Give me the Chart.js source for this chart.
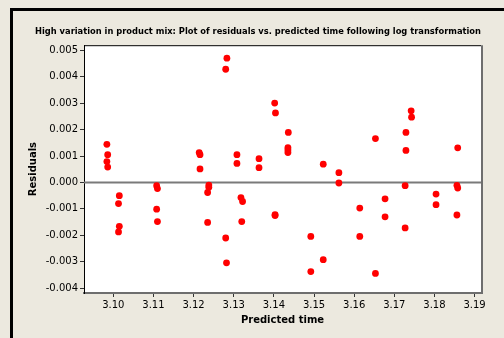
<!DOCTYPE html>
<html>
<head>
<meta charset="utf-8">
<script src="https://cdn.jsdelivr.net/npm/chart.js@4/dist/chart.umd.min.js"></script>
<style>
  html, body { margin: 0; padding: 0; background: #ece9df; overflow: hidden; }
  #wrap { position: relative; width: 504px; height: 338px; }
  #frame {
    position: absolute; left: 10px; top: 8px; width: 600px; height: 400px;
    border-left: 3px solid #000; border-top: 3px solid #000;
  }
  #plot { position: absolute; left: 0; top: 0; }
</style>
</head>
<body>
<div id="wrap">
  <div id="frame"></div>
  <canvas id="plot" width="504" height="338"></canvas>
</div>
<script>
// fitted values (log scale) and their residuals
const predicted = [
  3.0984, 3.0986, 3.0984, 3.0986,
  3.1015, 3.1013, 3.1015, 3.1013,
  3.1108, 3.1110, 3.1108, 3.1110,
  3.1214, 3.1216, 3.1216, 3.1238, 3.1238, 3.1235, 3.1235,
  3.1283, 3.1280, 3.1280, 3.1282,
  3.1308, 3.1308,
  3.1318, 3.1322, 3.1320,
  3.1363, 3.1363,
  3.1402, 3.1404, 3.1403, 3.1403,
  3.1436, 3.1435, 3.1435, 3.1435,
  3.1492, 3.1492,
  3.1523, 3.1523,
  3.1562, 3.1562,
  3.1614, 3.1614,
  3.1653, 3.1653,
  3.1677, 3.1677,
  3.1729, 3.1729, 3.1727, 3.1727,
  3.1742, 3.1743,
  3.1804, 3.1804,
  3.1858, 3.1856, 3.1858, 3.1856
];
const residuals = [
  0.00144, 0.00105, 0.00079, 0.00058,
  -0.00050, -0.00080, -0.00166, -0.00187,
  -0.00012, -0.00023, -0.00101, -0.00148,
  0.00113, 0.00105, 0.00051, -0.00010, -0.00018, -0.00038, -0.00151,
  0.00470, 0.00428, -0.00210, -0.00304,
  0.00105, 0.00072,
  -0.00057, -0.00072, -0.00148,
  0.00090, 0.00056,
  0.00300, 0.00263, -0.00122, -0.00125,
  0.00189, 0.00132, 0.00123, 0.00113,
  -0.00204, -0.00337,
  0.00069, -0.00292,
  0.00037, -0.00002,
  -0.00097, -0.00204,
  0.00166, -0.00344,
  -0.00062, -0.00130,
  0.00189, 0.00121, -0.00012, -0.00172,
  0.00271, 0.00247,
  -0.00044, -0.00084,
  0.00131, -0.00011, -0.00021, -0.00123
];
const xTicks = [3.10, 3.11, 3.12, 3.13, 3.14, 3.15, 3.16, 3.17, 3.18, 3.19];
const yTicks = [-0.004, -0.003, -0.002, -0.001, 0, 0.001, 0.002, 0.003, 0.004, 0.005];

const points = predicted.map((x, i) => ({ x: x, y: residuals[i] }));

const FONT = "'DejaVu Sans', Verdana, sans-serif";

// white panel, frame and the zero reference line
const panel = {
  id: 'panel',
  beforeDatasetsDraw(chart) {
    const { ctx, chartArea: a, scales } = chart;
    ctx.save();
    const y0 = Math.round(scales.y.getPixelForValue(0)) + 0.5;
    ctx.strokeStyle = '#7a7a7a';
    ctx.lineWidth = 2;
    ctx.beginPath();
    ctx.moveTo(a.left, y0);
    ctx.lineTo(a.right, y0);
    ctx.stroke();
    ctx.restore();
  },
  beforeDraw(chart) {
    const { ctx, chartArea: a } = chart;
    ctx.save();
    ctx.fillStyle = '#ffffff';
    ctx.fillRect(a.left, a.top, a.right - a.left, a.bottom - a.top);
    ctx.restore();
  },
  afterDraw(chart) {
    const { ctx, chartArea: a } = chart;
    ctx.save();
    ctx.strokeStyle = '#000';
    ctx.lineWidth = 1;
    ctx.beginPath();
    ctx.moveTo(a.left, a.top + 0.5);
    ctx.lineTo(a.right, a.top + 0.5);
    ctx.stroke();
    ctx.strokeStyle = '#6e6e6e';
    ctx.lineWidth = 2;
    ctx.beginPath();
    ctx.moveTo(a.right + 1, a.top);
    ctx.lineTo(a.right + 1, a.bottom + 1);
    ctx.stroke();
    ctx.restore();
  }
};

new Chart(document.getElementById('plot'), {
  type: 'scatter',
  data: {
    datasets: [{
      data: points,
      backgroundColor: '#ff0000',
      borderWidth: 0,
      pointRadius: 3.4,
      pointHoverRadius: 3.4
    }]
  },
  options: {
    responsive: false,
    animation: false,
    // left padding keeps the title centred a little right of the canvas middle
    layout: { padding: { top: 0, right: 23, bottom: 0, left: 35 } },
    plugins: {
      legend: { display: false },
      tooltip: { enabled: false },
      title: {
        display: true,
        text: 'High variation in product mix: Plot of residuals vs. predicted time following log transformation',
        color: '#000',
        font: { family: "'DejaVu Sans Condensed', 'DejaVu Sans', sans-serif", size: 9.33, weight: 'bold' },
        padding: { top: 26, bottom: 8 }
      }
    },
    scales: {
      x: {
        type: 'linear',
        min: 3.0927,
        max: 3.1916,
        afterBuildTicks: s => { s.ticks = xTicks.map(v => ({ value: v })); },
        afterFit: s => { s.height = 45; },
        border: { display: true, color: '#6e6e6e', width: 2 },
        grid: { drawOnChartArea: false, drawTicks: true, tickLength: 4, color: '#333' },
        ticks: {
          color: '#000',
          padding: 2,
          maxRotation: 0,
          font: { family: FONT, size: 10 },
          callback: v => v.toFixed(2)
        },
        title: {
          display: true,
          text: 'Predicted time',
          color: '#000',
          font: { family: FONT, size: 10, weight: 'bold' },
          padding: { top: 0, bottom: 12 }
        }
      },
      y: {
        type: 'linear',
        min: -0.00418,
        max: 0.00519,
        afterBuildTicks: s => { s.ticks = yTicks.map(v => ({ value: v })); },
        afterFit: s => { s.width = 49; },
        border: { display: true, color: '#000', width: 1 },
        grid: { drawOnChartArea: false, drawTicks: true, tickLength: 4, color: '#333' },
        ticks: {
          color: '#000',
          padding: 2,
          font: { family: FONT, size: 10 },
          callback: v => v.toFixed(3)
        },
        title: {
          display: true,
          text: 'Residuals',
          color: '#000',
          font: { family: FONT, size: 10, weight: 'bold' },
          padding: { top: -8, bottom: 0 }
        }
      }
    }
  },
  plugins: [panel]
});
</script>
</body>
</html>
